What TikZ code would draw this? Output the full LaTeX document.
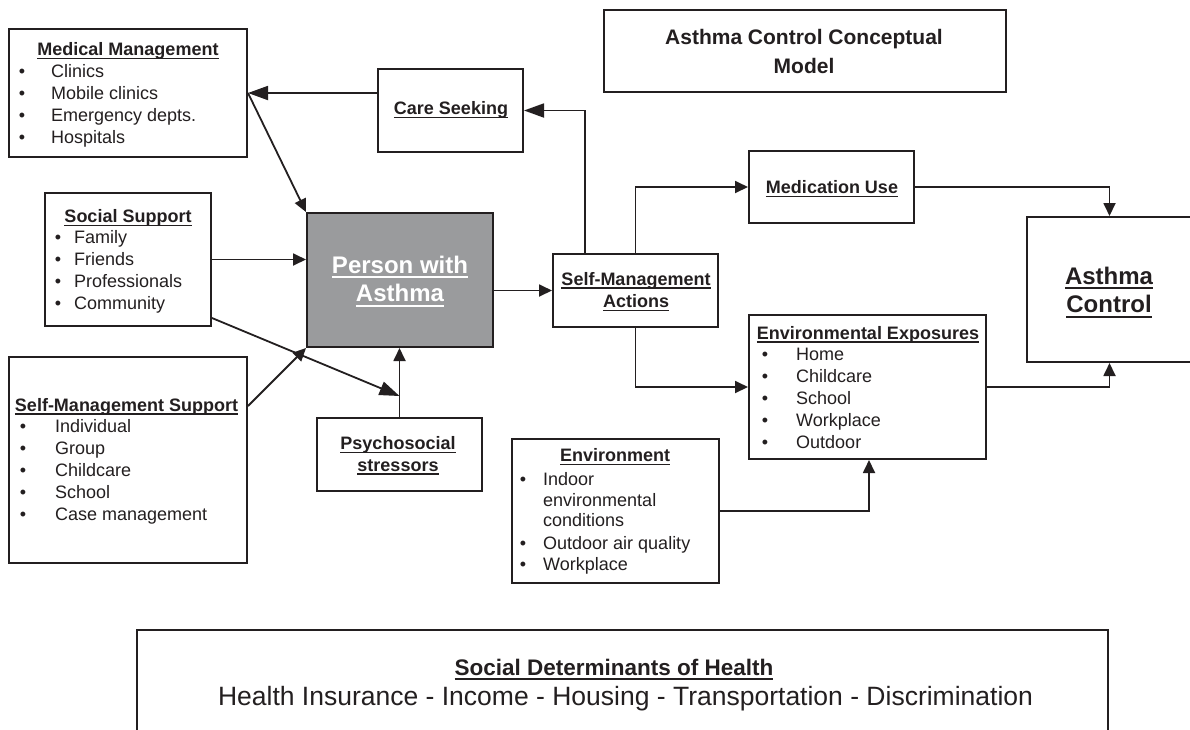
\documentclass[tikz,border=0pt]{standalone}
\usepackage{fontspec}
\setmainfont{Liberation Sans}
\usetikzlibrary{arrows.meta}
\newcommand{\ulx}[1]{\leavevmode\setbox0=\hbox{#1}\rlap{\vrule height -0.13em depth 0.2em width \wd0}\box0}
\definecolor{ink}{HTML}{231F20}
\definecolor{pgray}{HTML}{9A9B9D}
\tikzset{
  box/.style={draw=ink, line width=2pt, rectangle, inner sep=0pt},
  arr/.style={draw=ink, line width=1.8pt, -{Triangle[length=13pt,width=12pt]}},
  arrbig/.style={draw=ink, line width=1.8pt, -{Triangle[length=20pt,width=14pt]}},
  hd/.style={font=\fontsize{18}{22}\selectfont\bfseries, text=ink, inner sep=0pt, anchor=base},
  itm/.style={font=\fontsize{18}{22}\selectfont, text=ink, inner sep=0pt, anchor=base west},
  bul/.style={font=\fontsize{18}{22}\selectfont, text=ink, inner sep=0pt, anchor=base},
  bighd/.style={font=\fontsize{24}{28}\selectfont\bfseries, text=ink, inner sep=0pt, anchor=base},
}
\begin{document}
\begin{tikzpicture}[x=1pt,y=-1pt]
\fill[white] (0,0) rectangle (1190,729);
\useasboundingbox (0,0) rectangle (1190,729);

% boxes
\node[box, minimum width=238, minimum height=128] (mm) at (128,93) {};
\node[box, minimum width=402, minimum height=82] (ttl) at (805,51) {};
\node[box, minimum width=145, minimum height=83] (care) at (450.5,110.5) {};
\node[box, minimum width=166, minimum height=133] (ss) at (128,259.5) {};
\node[box, fill=pgray, minimum width=186, minimum height=134] (pwa) at (400,280) {};
\node[box, minimum width=165, minimum height=73] (sma) at (635.5,290.5) {};
\node[box, minimum width=165, minimum height=72] (med) at (831.5,187) {};
\node[box, minimum width=165, minimum height=145] (ac) at (1109.5,289.5) {};
\node[box, minimum width=237, minimum height=144] (ee) at (867.5,387) {};
\node[box, minimum width=238, minimum height=206] (sms) at (128,460) {};
\node[box, minimum width=165, minimum height=73] (psy) at (399.5,454.5) {};
\node[box, minimum width=207, minimum height=144] (env) at (615.5,511) {};
\node[box, minimum width=971, minimum height=110] (sdh) at (622.5,685) {};

% title
\node[font=\fontsize{21}{28}\selectfont\bfseries, text=ink, inner sep=0pt, anchor=base] (t1) at (804,44.3) {Asthma Control Conceptual};
\node[font=\fontsize{21}{28}\selectfont\bfseries, text=ink, inner sep=0pt, anchor=base] (t2) at (804,73) {Model};

% medical management
\node[hd] (mmh) at (128,55.5) {\ulx{Medical Management}};
\foreach \t/\y [count=\i] in {Clinics/77, Mobile clinics/99, Emergency depts./121, Hospitals/143}{
  \node[bul] (mmb\i) at (22,\y) {•};
  \node[itm] (mmi\i) at (51,\y) {\t};
}

% social support
\node[hd] (ssh) at (128,222.5) {\ulx{Social Support}};
\foreach \t/\y [count=\i] in {Family/243.5, Friends/265.5, Professionals/287.5, Community/309.5}{
  \node[bul] (ssb\i) at (58,\y) {•};
  \node[itm] (ssi\i) at (74,\y) {\t};
}

% self-management support
\node[hd] (smsh) at (126.5,411) {\ulx{Self-Management Support}};
\foreach \t/\y [count=\i] in {Individual/432.5, Group/454.3, Childcare/476, School/498, Case management/520}{
  \node[bul] (smsb\i) at (23,\y) {•};
  \node[itm] (smsi\i) at (55,\y) {\t};
}

% care seeking
\node[hd] (careh) at (451,114.3) {\ulx{Care Seeking}};

% person with asthma
\node[bighd, text=white] (pwa1) at (400,273.3) {\ulx{Person with}};
\node[bighd, text=white] (pwa2) at (400,301.7) {\ulx{Asthma}};

% self-management actions
\node[hd] (sma1) at (636,285) {\ulx{Self-Management}};
\node[hd] (sma2) at (636,307.7) {\ulx{Actions}};

% medication use
\node[hd] (medh) at (832,193.3) {\ulx{Medication Use}};

% asthma control
\node[bighd] (ac1) at (1109,284) {\ulx{Asthma}};
\node[bighd] (ac2) at (1109,312.7) {\ulx{Control}};

% environmental exposures
\node[hd] (eeh) at (868,339) {\ulx{Environmental Exposures}};
\foreach \t/\y [count=\i] in {Home/360, Childcare/382.3, School/404.3, Workplace/426, Outdoor/448.3}{
  \node[bul] (eeb\i) at (765,\y) {•};
  \node[itm] (eei\i) at (796,\y) {\t};
}

% psychosocial stressors
\node[hd] (psy1) at (398,449.3) {\ulx{Psychosocial}};
\node[hd] (psy2) at (398,471) {\ulx{stressors}};

% environment
\node[hd] (envh) at (615,461.7) {\ulx{Environment}};
\node[bul] (envb1) at (523,485) {•};
\node[itm] (envi1) at (543,485) {Indoor};
\node[itm] (envi1b) at (543,506) {environmental};
\node[itm] (envi1c) at (543,526.7) {conditions};
\node[bul] (envb2) at (523,549) {•};
\node[itm] (envi2) at (543,549) {Outdoor air quality};
\node[bul] (envb3) at (523,570.7) {•};
\node[itm] (envi3) at (543,570.7) {Workplace};

% social determinants
\node[font=\fontsize{22.5}{27}\selectfont\bfseries, text=ink, inner sep=0pt, anchor=base] (sdh1) at (614,675) {\ulx{Social Determinants of Health}};
\node[font=\fontsize{26.5}{30}\selectfont, text=ink, inner sep=0pt, anchor=base] (sdh2) at (625.5,705.7) {Health Insurance - Income - Housing - Transportation - Discrimination};

% connectors
\draw[arrbig] (care.west |- mm.east) -- (mm.east);
\draw[arrbig] ([xshift=-50.5pt]sma.north) |- (care.east);
\draw[arr] (pwa.east |- sma.west) -- (sma.west);
\draw[arr] (sma.north) |- (med.west);
\draw[arr] (sma.south) |- (ee.west);
\draw[arr] (med.east) -| (ac.north);
\draw[arr] (ee.east) -| (ac.south);
\draw[arr] (env.east) -| ([xshift=1.5pt]ee.south);
\draw[arr] (psy.north) -- (psy.north |- pwa.south);
\draw[arr] (ss.east) -- (ss.east -| pwa.west);
\draw[arr] (mm.east) -- (pwa.north west);
\draw[arr] ([yshift=-50pt]sms.north east) -- (pwa.south west);
\draw[arrbig] ([yshift=9pt]ss.south east) -- ([yshift=21pt]psy.north);
\end{tikzpicture}
\end{document}
